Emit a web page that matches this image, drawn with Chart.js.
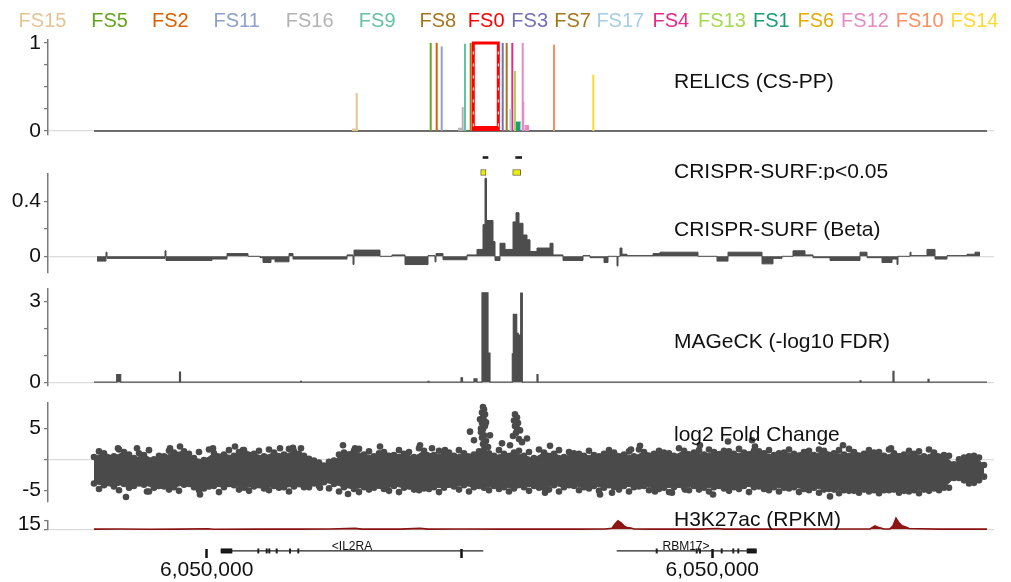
<!DOCTYPE html>
<html>
<head>
<meta charset="utf-8">
<script src="https://cdn.jsdelivr.net/npm/chart.js@4.4.0/dist/chart.umd.min.js"></script>
<style>
  html, body { margin: 0; padding: 0; background: #fff; }
  #wrap { position: relative; width: 1011px; height: 582px; overflow: hidden; }
  #wrap canvas { position: absolute; left: 0; }
</style>
</head>
<body>
<div id="wrap"></div>
<script>
const FONT = "'Liberation Sans', Arial, sans-serif";
Chart.defaults.font.family = FONT;
Chart.defaults.animation = false;

// x positions are in units of 100 bp from the left edge of the window
const windowStart = 46, windowEnd = 939;

// ===== RELICS credible sets =====
const fsNames  = ['FS15','FS5','FS2','FS11','FS16','FS9','FS8','FS0','FS3','FS7','FS17','FS4','FS13','FS1','FS6','FS12','FS10','FS14'];
const fsColors = ['#e5c494','#66a61e','#d95f02','#8da0cb','#b3b3b3','#66c2a5','#a6761d','#ff0000','#7570b3','#a6761d','#a6cee3','#e7298a','#a6d854','#1b9e77','#e6ab02','#e78ac3','#fc8d62','#ffd92f'];
const fsStart  = [308.7,382.7,388.7,393.7,414.7,417,422.7,425.3,454.7,458.7,462.5,464.3,467,467.5,471,474.7,506,545.3];
const fsEnd    = [308.7,382.7,388.7,393.7,414.7,417,422.7,450.3,454.7,458.7,462.5,464.3,467,472.7,471,474.7,506,545.3];
const fsPP     = [0.43,1,1,0.96,0.27,0.99,1,1,1,1,0.25,1,0.68,0.1,0.02,1,0.98,0.64];
const fs0Floor = 0.05;
// low shoulders next to some sets
const tailFs    = ['FS15','FS16','FS12','FS12'];
const tailStart = [304,410,474.7,476.5];
const tailEnd   = [310,414.7,476.5,481];
const tailPP    = [0.02,0.03,0.32,0.06];

// ===== CRISPR-SURF =====
const sigStart  = [432.7,464.7];
const sigEnd    = [438,472.7];
const dashStart = [435,467.7];
const dashEnd   = [440,473.7];

const betaStart = [49,58,59,117,118,164,179,200,212,215,223,227,241,245,299,305,306,332,344,357,380,387,388,395,419,429,435,437,438.5,445,447,452,457,465,468,471,475,479,482,489,502,505,515,535,542,556,560,569,570,572,574,579,605,612,650,669,680,714,725,734,745,757,765,782,812,819,834,844,849,850,862,863,879,887,899,919,927];
const betaVal   = [-0.035,0.03,-0.015,0.04,-0.03,-0.02,0.02,0,-0.01,-0.045,-0.02,-0.04,0.02,-0.02,0.01,-0.06,0.045,0,0.01,-0.06,0.005,-0.04,0.02,-0.025,0.01,0.05,0.23,0.567,0.26,0.107,-0.03,0.095,0.05,0.25,0.317,0.24,0.155,0.12,0.035,0.06,0.095,0.01,-0.03,0.005,-0.01,-0.045,0,-0.07,0,0.06,0.015,0.005,0.02,0.03,0,-0.035,0.03,-0.055,-0.015,0,0.04,0.01,-0.01,-0.03,0.03,-0.01,-0.045,-0.02,-0.06,0,0.03,0.005,0.05,-0.02,0.005,0.015,0.03];
const betaEnd = 932;

// ===== MAGeCK =====
const magStart = [46,68.7,72.7,131.5,132.5,252.5,253.5,380,381,413,414.5,426,429,434,440,442,464.3,465.3,468.7,470.3,472,472.7,474.3,489,490,812,813,845,846,880,881];
const magVal   = [0,0.28,0,0.37,0,0.03,0,0.03,0,0.16,0,0.12,0,3.32,1.08,0,1.05,2.52,1.81,1.75,1.4,3.31,0,0.28,0,0.05,0,0.4,0,0.1,0];

// ===== log2 fold change (dense band edges + single guides) =====
const fcPos  = [46,56,66,76,86,96,106,116,126,136,146,156,166,176,186,196,206,216,226,236,246,256,266,276,286,296,306,316,326,336,346,356,366,376,386,396,406,416,426,436,446,456,466,476,486,496,506,516,526,536,546,556,566,576,586,596,606,616,626,636,646,656,666,676,686,696,706,716,726,736,746,756,766,776,786,796,806,816,826,836,846,856,866,876,886,896,906,916,926,936];
const fcHigh = [0.4,1.0,0.5,1.2,0.2,0.7,0.0,0.5,1.1,1.3, 0.2,-0.1,1.0,0.8,0.6,1.5,0.9,0.5,1.1,0.8, 1.3,0.6,-0.2,-1.0,-0.2,1.1,1.4,0.8,0.5,1.2, 0.7,0.9,0.4,1.4,0.7,0.9,0.6,1.0,0.8,1.6, 0.6,0.9,1.1,0.6,0.2,1.1,0.9,0.4,1.0,0.6, 0.7,0.9,1.1,0.8,0.5,1.2,0.9,1.1,0.6,1.4, 1.1,0.8,1.2,1.4,0.9,1.1,1.4,1.0,0.7,1.1, 0.9,1.2,0.7,1.4,1.0,0.8,1.2,0.9,1.1,0.6, 1.0,0.8,0.9,0.5,1.1,0.7,-0.8,0.3,0.6,-0.9];
const fcLow  = [-3.9,-4.2,-4.4,-4.0,-4.3,-4.1,-4.6,-4.4,-4.5,-4.1, -4.5,-4.7,-4.3,-4.5,-4.2,-4.6,-4.4,-4.7,-4.3,-4.5, -4.4,-4.5,-3.9,-3.7,-4.0,-4.5,-4.8,-4.5,-4.6,-4.8, -4.3,-4.6,-4.9,-4.7,-4.5,-4.6,-4.4,-4.2,-4.5,-4.6, -4.3,-4.5,-4.7,-4.5,-4.3,-4.6,-4.2,-4.5,-4.3,-4.5, -4.3,-4.6,-4.5,-4.3,-4.5,-4.3,-4.5,-4.6,-4.5,-4.5, -4.3,-4.6,-4.5,-4.7,-4.5,-4.3,-4.5,-4.8,-4.5,-4.6, -4.5,-4.8,-4.6,-4.9,-4.9,-5.0,-5.1,-4.9,-5.0,-5.0, -4.9,-5.1,-5.0,-4.9,-4.7,-4.6,-3.0,-3.4,-3.8,-2.8];
// guides sitting around the band edges, between the bins above
const fcEdgePos  = [51,61,71,81,91,101,111,121,131,141,151,161,171,181,191,201,211,221,231,241,251,261,271,281,291,301,311,321,331,341,351,361,371,381,391,401,411,421,431,441,451,461,471,481,491,501,511,521,531,541,551,561,571,581,591,601,611,621,631,641,651,661,671,681,691,701,711,721,731,741,751,761,771,781,791,801,811,821,831,841,851,861,871,881,891,901,911,921,931];
const fcEdgeHigh = [1.3,0.2,1.6,0.8,1.0,1.5,0.6,1.4,0.7,0.9, 1.2,1.6,0.3,1.5,1.2,0.7,1.4,1.6,0.4,1.7, 0.9,0.1,-0.5,-0.4,0.8,0.5,1.7,1.3,1.0,0.6, 1.5,1.2,1.8,0.3,1.4,1.1,1.5,0.4,1.3,1.0, 1.5,0.5,1.4,1.2,1.6,0.4,1.5,1.2,0.9,1.4, 0.5,1.5,0.4,1.3,1.6,0.5,1.4,1.0,1.8,0.7, 1.5,1.6,0.6,1.3,1.7,0.8,1.3,1.5,1.0,1.6, 0.6,1.4,1.6,0.6,1.5,1.7,0.5,1.5,1.2,1.6, 0.5,1.4,1.3,1.6,0.4,0.6,0.0,0.5,0.3];
const fcEdgeLow  = [-4.8,-3.7,-5.0,-4.6,-3.9,-5.2,-4.3,-4.9,-5.1,-4.0, -5.0,-4.4,-5.3,-4.0,-4.9,-5.1,-4.2,-5.0,-4.6,-5.2, -3.8,-4.5,-4.3,-4.7,-5.2,-4.1,-5.3,-4.9,-4.2,-5.1, -5.3,-4.4,-5.0,-4.8,-5.3,-4.1,-4.9,-5.2,-4.3,-5.0, -4.8,-5.2,-4.0,-5.1,-4.6,-4.9,-5.2,-4.2,-5.0,-4.7, -5.1,-4.2,-4.9,-5.2,-4.4,-5.0,-4.8,-5.3,-4.1,-5.0, -4.9,-5.2,-4.3,-5.1,-4.8,-5.3,-4.4,-5.0,-5.2,-4.7, -5.3,-5.0,-5.4,-4.8,-5.5,-5.1,-5.4,-5.2,-5.5,-5.0, -5.4,-5.2,-5.5,-5.1,-5.0,-4.6,-3.0,-3.9,-3.4];
const fcDotX = [78,70,89,99,122,132,152,165,187,195,232,245,253,272,295,300,307,332,372,384,397,422,426,
  435,436,434,437,435,436,434,437,435,433,436,434,438,435,440,432,438,433,
  442,454,
  467,469,466,470,467,472,468,465,471,474,462,469,
  479,497,502,552,564,583,592,607,624,637,652,665,680,704,707,782,795,843];
const fcDotY = [-6.1,1.8,1.8,-5.2,1.8,2.1,-5.7,1.8,2.1,1.5,1.8,1.9,1.8,-4.6,2.3,-5.6,1.8,2.1,2.3,1.8,1.5,4.5,3.1,
  8.5,8.1,7.6,7.3,6.8,6.3,5.9,5.4,4.9,4.4,3.9,3.5,3.0,2.5,2.0,6.5,6.0,5.0,
  3.9,2.6,
  7.3,6.8,6.3,5.9,5.4,4.7,4.3,3.8,3.3,2.8,2.3,5.0,
  3.4,-5.4,2.2,-5.7,-5.4,1.6,2.2,-5.2,-5.4,-4.9,2.3,-5.7,2.9,3.1,2.1,-6.0,2.3,1.8];

// ===== H3K27ac =====
const h3Pos = [46,72,102,132,160,166,212,252,282,307,314,352,372,380,412,452,492,532,557,564,567,570,573,576,579,583,586,602,652,670,676,712,752,792,822,827,831,836,842,845,848,851,854,857,861,872,892,939];
const h3Val = [0.4,0.6,0.3,0.5,1.2,0.3,0.5,0.4,0.6,1.8,0.4,0.5,1.8,0.5,0.6,0.4,0.5,0.4,0.8,2,9,14.5,11,6,3,2.5,0.8,0.5,0.4,1.6,0.4,0.5,0.4,0.6,0.8,6,3,0.7,0.8,6,19,11,6,4.5,1.5,1.0,0.5,0.4];

// ===== genes / coordinate ticks =====
const geneNames  = ['IL2RA','RBM17'];
const geneStrand = ['-','+'];
const geneStart  = [172.7,568.7];
const geneEnd    = [435.3,708.7];
const utrStart   = [172.7,698.7];
const utrEnd     = [184.3,708.7];
const geneExons  = [[210.3,218.7,221.3,228.7,242,250.3],[608.7,648.7,652,673.7,685.3,690.3]];
const coordTicks  = [158.7,413.7,664.3];
const coordLabels = ['6,050,000','','6,050,000'];

// ===== plugins =====
const trackText = {
  id: 'trackText',
  afterDatasetsDraw(chart, args, opts) {
    const items = opts.items || [];
    const { ctx, scales } = chart;
    items.forEach(it => {
      ctx.save();
      ctx.font = it.font || `21px ${FONT}`;
      ctx.fillStyle = it.color || '#111';
      ctx.textAlign = it.align || 'left';
      ctx.textBaseline = it.baseline || 'middle';
      ctx.fillText(it.text, scales.x.getPixelForValue(it.x), scales.y.getPixelForValue(it.y));
      ctx.restore();
    });
  }
};
const fsLegend = {
  id: 'fsLegend',
  afterDraw(chart, args, opts) {
    if (!opts.centers) return;
    const ctx = chart.ctx;
    ctx.save();
    ctx.font = `20px ${FONT}`;
    ctx.textAlign = 'center';
    ctx.textBaseline = 'alphabetic';
    fsNames.forEach((n, i) => {
      ctx.fillStyle = fsColors[i];
      ctx.fillText(n, opts.centers[i], opts.baseline);
    });
    ctx.restore();
  }
};
Chart.register(trackText, fsLegend);

// ===== helpers =====
function makeCanvas(top, height) {
  const c = document.createElement('canvas');
  c.width = 1011;
  c.height = height;
  c.style.top = top + 'px';
  document.getElementById('wrap').appendChild(c);
  return c;
}

function yAxis(min, max, tickVals, labelVals, labelOffset) {
  return {
    min, max,
    afterFit(s) { s.width = 48; },
    afterBuildTicks(s) { s.ticks = tickVals.map(v => ({ value: v })); },
    ticks: {
      autoSkip: false, padding: 3, color: '#111', labelOffset: labelOffset || 0,
      font: { size: 21 },
      callback: v => labelVals.includes(v) ? String(v) : ''
    },
    grid: {
      color: c => (c.tick && c.tick.value === 0) ? '#dcdcdc' : 'rgba(0,0,0,0)',
      lineWidth: 1.2,
      tickColor: '#7a7a7a', tickLength: 4, tickWidth: 1.3
    },
    border: { color: '#7a7a7a', width: 1.5 }
  };
}

function trackOptions(padTop, padBottom, y, labels) {
  return {
    responsive: false, animation: false, devicePixelRatio: 1, events: [],
    layout: { padding: { left: 0, right: 17, top: padTop, bottom: padBottom } },
    plugins: { legend: { display: false }, tooltip: { enabled: false }, trackText: { items: labels } },
    elements: { point: { radius: 0 } },
    scales: { x: { type: 'linear', min: 0, max: 946, display: false }, y }
  };
}

const pts = (xs, ys) => xs.map((x, i) => ({ x, y: ys[i] }));
const labelX = 626;

// ===== RELICS (CS-PP) =====
const relicsSets = [{
  data: [{ x: windowStart, y: 0 }, { x: windowEnd, y: 0 }],
  borderColor: '#444', borderWidth: 1.5, order: 5
}];
tailFs.forEach((name, i) => {
  const c = fsColors[fsNames.indexOf(name)];
  relicsSets.push({
    data: [{ x: tailStart[i], y: tailPP[i] }, { x: tailEnd[i], y: tailPP[i] }],
    borderColor: c, borderWidth: 1, backgroundColor: c, fill: 'origin', order: 2
  });
});
fsNames.forEach((name, i) => {
  const c = fsColors[i], s = fsStart[i], e = fsEnd[i], pp = fsPP[i];
  if (e > s && name === 'FS0') {
    relicsSets.push({
      data: [{ x: s, y: 0 }, { x: s, y: pp }, { x: e, y: pp }, { x: e, y: 0 }],
      borderColor: c, borderWidth: 3, order: 1, clip: false
    });
    relicsSets.push({
      data: [{ x: s, y: fs0Floor }, { x: e, y: fs0Floor }],
      borderColor: c, borderWidth: 1, backgroundColor: c, fill: 'origin', order: 1
    });
    [s, e].forEach(x => relicsSets.push({
      data: [{ x, y: 0.05 }, { x, y: pp - 0.02 }],
      borderColor: '#fff', borderWidth: 1, borderDash: [3, 9], order: 0
    }));
  } else if (e > s) {
    relicsSets.push({
      data: [{ x: s, y: pp }, { x: e, y: pp }],
      borderColor: c, borderWidth: 1, backgroundColor: c, fill: 'origin', order: 1
    });
  } else {
    relicsSets.push({
      data: [{ x: s, y: 0 }, { x: s, y: pp }],
      borderColor: c, borderWidth: 2, borderCapStyle: 'butt', order: 1, clip: false
    });
  }
});

const relicsOpts = trackOptions(39.4, 13.9,
  yAxis(-0.04, 1.04, [0, 0.25, 0.5, 0.75, 1], [0, 1]),
  [{ text: 'RELICS (CS-PP)', x: labelX, y: 0.55 }]);
relicsOpts.plugins.fsLegend = {
  baseline: 27,
  centers: [42.5,109.5,170.3,236.7,309.7,377.2,437.8,486.2,529.7,572.5,620.3,670.8,722,771.3,815.8,865,919.7,974.5]
};
new Chart(makeCanvas(0, 150), { type: 'line', data: { datasets: relicsSets }, options: relicsOpts });

// ===== CRISPR-SURF (Beta) =====
new Chart(makeCanvas(158, 130), {
  type: 'line',
  data: { datasets: [{
    data: pts(betaStart, betaVal).concat([{ x: betaEnd, y: betaVal[betaVal.length - 1] }]),
    stepped: true, fill: 'origin',
    borderColor: '#4d4d4d', backgroundColor: '#4d4d4d', borderWidth: 1
  }] },
  options: trackOptions(15, 15,
    yAxis(-0.117, 0.601, [0, 0.2, 0.4], [0, 0.4]),
    [{ text: 'CRISPR-SURF (Beta)', x: labelX, y: 0.19 }])
});

// ===== CRISPR-SURF significance =====
new Chart(makeCanvas(150, 30), {
  type: 'bar',
  data: {
    labels: ['fdr', 'p05'],
    datasets: [
      { data: dashStart.map((s, i) => ({ y: 'fdr', x: [s, dashEnd[i]] })),
        backgroundColor: '#222', barThickness: 2, grouped: false },
      { data: sigStart.map((s, i) => ({ y: 'p05', x: [s, sigEnd[i]] })),
        backgroundColor: '#eeee00', borderColor: '#6a6a40', borderWidth: 1,
        borderSkipped: false, barThickness: 6, grouped: false }
    ]
  },
  options: {
    responsive: false, animation: false, devicePixelRatio: 1, events: [], indexAxis: 'y',
    layout: { padding: { left: 48, right: 17, top: 0, bottom: 0 } },
    plugins: { legend: { display: false }, tooltip: { enabled: false },
      trackText: { items: [{ text: 'CRISPR-SURF:p<0.05', x: labelX, y: 1 }] } },
    scales: {
      x: { type: 'linear', min: 0, max: 946, display: false },
      y: { type: 'category', display: false }
    }
  }
});

// ===== MAGeCK =====
new Chart(makeCanvas(273, 128), {
  type: 'line',
  data: { datasets: [{
    data: pts(magStart, magVal).concat([{ x: windowEnd, y: 0 }]),
    stepped: true, fill: 'origin',
    borderColor: '#4d4d4d', backgroundColor: '#4d4d4d', borderWidth: 1.2
  }] },
  options: trackOptions(15, 15,
    yAxis(-0.121, 3.478, [0, 1, 2, 3], [0, 3]),
    [{ text: 'MAGeCK (-log10 FDR)', x: labelX, y: 1.49 }])
});

// ===== log2 Fold Change =====
const dotStyle = { pointRadius: 3.3, pointBackgroundColor: '#4a4a4a', pointBorderWidth: 0, borderColor: '#4a4a4a', borderWidth: 1 };
new Chart(makeCanvas(387, 130), {
  type: 'line',
  data: { datasets: [
    Object.assign({ data: pts(fcPos, fcLow), fill: false }, dotStyle),
    Object.assign({ data: pts(fcPos, fcHigh), fill: '-1', backgroundColor: '#4a4a4a' }, dotStyle),
    Object.assign({ data: pts(fcEdgePos, fcEdgeHigh), showLine: false, clip: false }, dotStyle),
    Object.assign({ data: pts(fcEdgePos, fcEdgeLow), showLine: false, clip: false }, dotStyle),
    Object.assign({ data: pts(fcDotX, fcDotY), showLine: false, clip: false }, dotStyle)
  ] },
  options: trackOptions(15, 15,
    yAxis(-6.81, 9.21, [-5, 0, 5], [-5, 5]),
    [{ text: 'log2 Fold Change', x: labelX, y: 3.85 }])
});

// ===== H3K27ac =====
new Chart(makeCanvas(505, 40), {
  type: 'line',
  data: { datasets: [{
    data: pts(h3Pos, h3Val), fill: 'origin', clip: false,
    borderColor: '#8a1212', backgroundColor: '#8f1515', borderWidth: 1.6
  }] },
  options: trackOptions(15, 15.5,
    yAxis(0, 15, [0, 15], [15], 4),
    [{ text: 'H3K27ac (RPKM)', x: labelX, y: 15.8 }])
});

// ===== genes + coordinates =====
const geneY = -0.15;
const geneSets = [];
const geneLabels = [];
geneNames.forEach((g, i) => {
  geneSets.push({ data: [{ x: geneStart[i], y: geneY }, { x: geneEnd[i], y: geneY }],
    borderColor: '#222', borderWidth: 1.2, clip: false });
  geneSets.push({ data: [{ x: utrStart[i], y: geneY }, { x: utrEnd[i], y: geneY }],
    borderColor: '#111', borderWidth: 5, borderCapStyle: 'butt', clip: false });
  geneSets.push({ data: geneExons[i].map(x => ({ x, y: geneY })), showLine: false, clip: false,
    pointStyle: 'line', rotation: 90, pointRadius: 2.5, pointBorderWidth: 2, pointBorderColor: '#222' });
  const text = geneStrand[i] === '-' ? '<' + g : g + '>';
  const mid = i === 0 ? (geneStart[i] + geneEnd[i]) / 2 : geneExons[i][2] - 14;
  geneLabels.push({ text, x: mid, y: -0.06, font: `12px ${FONT}`, align: 'center', baseline: 'alphabetic' });
});
new Chart(makeCanvas(520, 62), {
  type: 'line',
  data: { datasets: geneSets },
  options: {
    responsive: false, animation: false, devicePixelRatio: 1, events: [],
    layout: { padding: { left: 48, right: 17, top: 16, bottom: 0 } },
    plugins: { legend: { display: false }, tooltip: { enabled: false }, trackText: { items: geneLabels } },
    elements: { point: { radius: 0 } },
    scales: {
      x: {
        type: 'linear', min: 0, max: 946, position: 'bottom',
        afterBuildTicks(s) { s.ticks = coordTicks.map(v => ({ value: v })); },
        afterFit(s) { s.height = 33; },
        ticks: { autoSkip: false, maxRotation: 0, padding: 0, color: '#111', font: { size: 21 },
          callback: (v, i) => coordLabels[i] },
        grid: { drawOnChartArea: false, drawTicks: true, tickLength: 9, tickWidth: 2.5, tickColor: '#111' },
        border: { display: false }
      },
      y: { min: 0, max: 1, display: false }
    }
  }
});
</script>
</body>
</html>
